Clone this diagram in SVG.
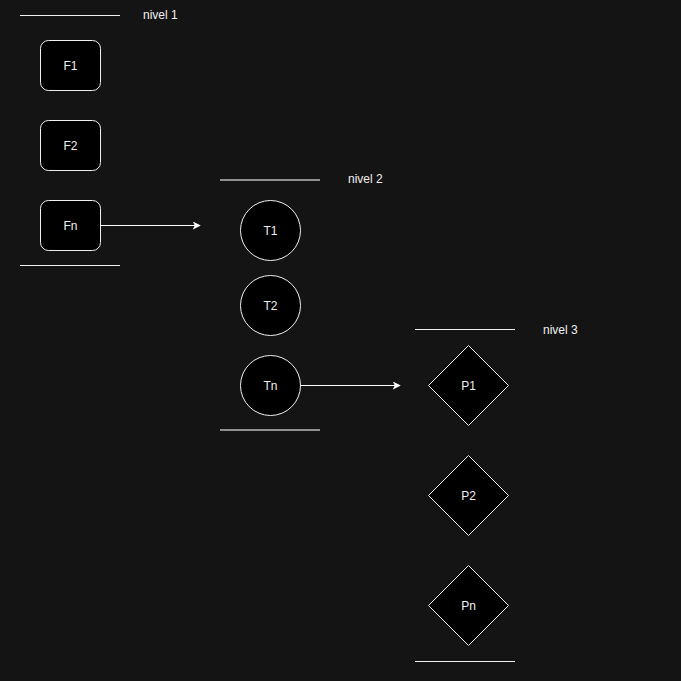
<svg xmlns="http://www.w3.org/2000/svg" width="681" height="681" viewBox="0 0 681 681">
<style>
text{font-family:"Liberation Sans",Arial,sans-serif;font-size:12px;fill:#f0f0f0}
.c{text-anchor:middle;dominant-baseline:central}
.shape{fill:#000;stroke:#f0f0f0;stroke-width:1}
.sep{stroke:#f0f0f0;stroke-width:1}
.sepg{stroke:#909090;stroke-width:2}
.conn{stroke:#fff;stroke-width:1;fill:none}
</style>
<defs>
<marker id="arr" viewBox="0 0 10 10" refX="9" refY="5" markerWidth="8" markerHeight="8" markerUnits="userSpaceOnUse" orient="auto">
<path d="M0,0 L10,5 L0,10 L2.5,5 Z" fill="#fff"/>
</marker>
</defs>
<rect width="681" height="681" fill="#141414"/>
<g id="levels">
<line class="sep" x1="20" y1="15.5" x2="120" y2="15.5"/>
<text x="143" y="19">nivel 1</text>
<line class="sep" x1="20" y1="265.5" x2="120" y2="265.5"/>
<line class="sepg" x1="220" y1="180" x2="320" y2="180"/>
<text x="348" y="183">nivel 2</text>
<line class="sepg" x1="220" y1="430" x2="320" y2="430"/>
<line class="sep" x1="415" y1="329.5" x2="515" y2="329.5"/>
<text x="543" y="334">nivel 3</text>
<line class="sep" x1="415" y1="661.5" x2="515" y2="661.5"/>
</g>
<g id="F1"><rect class="shape" x="40.5" y="40.5" width="60" height="50" rx="8"/><text class="c" x="70.5" y="65.5">F1</text></g>
<g id="F2"><rect class="shape" x="40.5" y="120.5" width="60" height="50" rx="8"/><text class="c" x="70.5" y="145.5">F2</text></g>
<g id="Fn"><rect class="shape" x="40.5" y="200.5" width="60" height="50" rx="8"/><text class="c" x="70.5" y="225.5">Fn</text></g>
<g id="T1"><circle class="shape" cx="270.5" cy="230.5" r="30"/><text class="c" x="270.5" y="230.5">T1</text></g>
<g id="T2"><circle class="shape" cx="270.5" cy="305.5" r="30"/><text class="c" x="270.5" y="305.5">T2</text></g>
<g id="Tn"><circle class="shape" cx="270.5" cy="385.5" r="30"/><text class="c" x="270.5" y="385.5">Tn</text></g>
<g id="P1"><path class="shape" d="M468.5,345.5 L508.5,385.5 L468.5,425.5 L428.5,385.5 Z"/><text class="c" x="468.5" y="385.5">P1</text></g>
<g id="P2"><path class="shape" d="M468.5,455.5 L508.5,495.5 L468.5,535.5 L428.5,495.5 Z"/><text class="c" x="468.5" y="495.5">P2</text></g>
<g id="Pn"><path class="shape" d="M468.5,565.5 L508.5,605.5 L468.5,645.5 L428.5,605.5 Z"/><text class="c" x="468.5" y="605.5">Pn</text></g>
<g id="connectors">
<line class="conn" x1="100.5" y1="225.5" x2="200" y2="225.5" marker-end="url(#arr)"/>
<line class="conn" x1="300.5" y1="385.5" x2="400" y2="385.5" marker-end="url(#arr)"/>
</g>
</svg>
